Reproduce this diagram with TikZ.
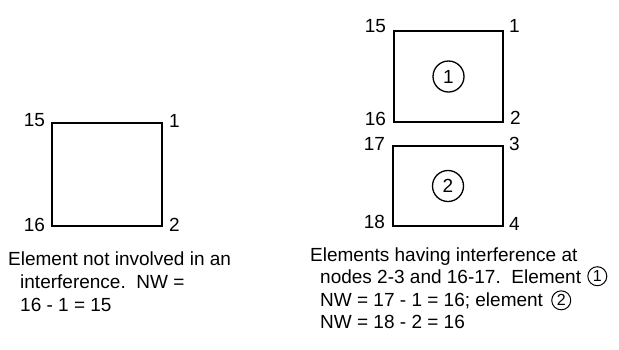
\documentclass[tikz,border=0pt]{standalone}
\usepackage{fontspec}
\setmainfont{Liberation Sans}
\usetikzlibrary{positioning}

\begin{document}
\begin{tikzpicture}[x=1pt, y=-1pt,
    elem/.style={draw, line width=1.6pt, inner sep=0pt},
    num/.style={inner sep=0pt, font=\fontsize{19}{22}\selectfont},
    circ/.style={draw, circle, line width=1.3pt, inner sep=0pt, minimum size=31pt, font=\fontsize{19}{22}\selectfont},
    txt/.style={anchor=base west, inner sep=0pt, font=\fontsize{19}{22}\selectfont}]
    \useasboundingbox (0,0) rectangle (619,349);

    % Elements
    \node[elem, minimum width=110pt, minimum height=103pt] (e0) at (107,174.5) {};
    \node[elem, minimum width=109pt, minimum height=91pt] (e1) at (448.5,76.5) {};
    \node[elem, minimum width=110pt, minimum height=80pt] (e2) at (448,186) {};
    \node[circ] (c1) at (e1.center) {1};
    \node[circ] (c2) at (e2.center) {2};

    % Corner nodes
    \node[num, left=6pt of e0.north west, yshift=2pt] (n0a) {15};
    \node[num, right=6pt of e0.north east, yshift=1pt] (n0b) {1};
    \node[num, left=6pt of e0.south west, yshift=2pt] (n0c) {16};
    \node[num, right=6pt of e0.south east, yshift=2pt] (n0d) {2};
    \node[num, left=7pt of e1.north west, yshift=4pt] (n1a) {15};
    \node[num, right=5pt of e1.north east, yshift=4pt] (n1b) {1};
    \node[num, left=7pt of e1.south west, yshift=4pt] (n1c) {16};
    \node[num, right=6pt of e1.south east, yshift=5pt] (n1d) {2};
    \node[num, left=7pt of e2.north west, yshift=1pt] (n2a) {17};
    \node[num, right=5pt of e2.north east, yshift=1pt] (n2b) {3};
    \node[num, left=7pt of e2.south west, yshift=5pt] (n2c) {18};
    \node[num, right=5pt of e2.south east, yshift=3pt] (n2d) {4};

    % Captions
    \node[txt] (cap0a) at (8,265) {Element not involved in an};
    \node[txt] (cap0b) at (20,288) {interference.\ \ NW =};
    \node[txt] (cap0c) at (20,311) {16 - 1 = 15};
    \node[txt] (cap1a) at (310,261) {Elements having interference at};
    \node[txt] (cap1b) at (320,283) {nodes 2-3 and 16-17.\ \ Element};
    \node[txt] (cap1c) at (320,306) {NW = 17 - 1 = 16; element};
    \node[txt] (cap1d) at (320,328) {NW = 18 - 2 = 16};
    \node[circ, minimum size=19pt, line width=1pt, font=\fontsize{16}{18}\selectfont, right=6pt of cap1b] (c1b) {1};
    \node[circ, minimum size=19pt, line width=1pt, font=\fontsize{16}{18}\selectfont, right=8pt of cap1c] (c2b) {2};
\end{tikzpicture}
\end{document}
